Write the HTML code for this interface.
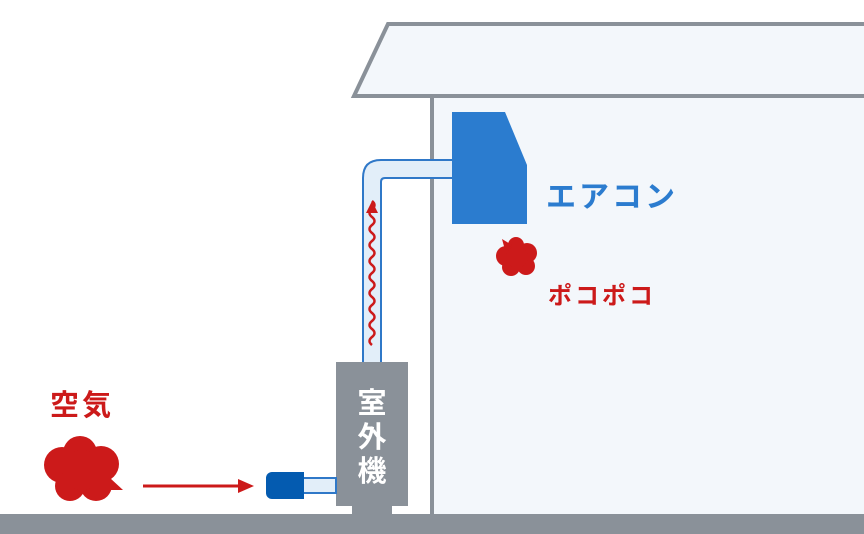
<!DOCTYPE html>
<html><head><meta charset="utf-8"><style>
html,body{margin:0;padding:0;background:#fff;}
svg{display:block}
text{font-family:"Liberation Sans","Noto Sans CJK JP",sans-serif;font-weight:bold}
</style></head><body>
<svg width="864" height="534" viewBox="0 0 864 534" xmlns="http://www.w3.org/2000/svg">
<rect x="432" y="96" width="440" height="420" fill="#f3f7fb"/>
<polygon points="388,24 866,24 866,96 354,96" fill="#f3f7fb" stroke="#8a9199" stroke-width="4"/>
<line x1="432" y1="96" x2="432" y2="516" stroke="#8a9199" stroke-width="4"/>
<path d="M363,364 V178 Q363,160 381,160 H454 V178 H385 Q381,178 381,182 V364 Z" fill="#e2eef9" stroke="#2f78c8" stroke-width="2"/>
<polygon points="452,112 505,112 527,165 527,224 452,224" fill="#2b7ccf"/>
<path d="M372,345 q-5,-4 0,-8 q5,-4 0,-8 q-5,-4 0,-8 q5,-4 0,-8 q-5,-4 0,-8 q5,-4 0,-8 q-5,-4 0,-8 q5,-4 0,-8 q-5,-4 0,-8 q5,-4 0,-8 q-5,-4 0,-8 q5,-4 0,-8 q-5,-4 0,-8 q5,-4 0,-8 q-5,-4 0,-8 q5,-4 0,-8 q-5,-4 0,-8 q5,-4 0,-8" fill="none" stroke="#cc1a1a" stroke-width="2.5"/>
<polygon points="372,201 366,213 378,213" fill="#cc1a1a"/>
<rect x="336" y="362" width="72" height="144" fill="#8a9199"/>
<rect x="352" y="500" width="40" height="16" fill="#8a9199"/>
<text x="372" y="413" font-size="29" fill="#fff" text-anchor="middle">室</text>
<text x="372" y="447" font-size="29" fill="#fff" text-anchor="middle">外</text>
<text x="372" y="481" font-size="29" fill="#fff" text-anchor="middle">機</text>
<rect x="0" y="514" width="864" height="20" fill="#8a9199"/>
<rect x="300" y="478" width="36" height="15" fill="#e2eef9" stroke="#2f78c8" stroke-width="2"/>
<rect x="266" y="472" width="38" height="27" rx="6" fill="#045bb0"/>
<rect x="290" y="472" width="14" height="27" fill="#045bb0"/>
<line x1="143" y1="486" x2="240" y2="486" stroke="#cc1a1a" stroke-width="3"/>
<polygon points="254,486 238,479 238,493" fill="#cc1a1a"/>
<g fill="#cc1a1a">
<circle cx="80" cy="453" r="17"/><circle cx="62" cy="465" r="18"/><circle cx="101" cy="464" r="18"/>
<circle cx="70" cy="486" r="15"/><circle cx="96" cy="485" r="16"/><circle cx="82" cy="470" r="20"/>
<polygon points="110,478 123,490 106,490"/>
<circle cx="516" cy="245" r="8"/><circle cx="506" cy="256" r="10"/><circle cx="527" cy="253" r="10"/>
<circle cx="511" cy="267" r="9"/><circle cx="526" cy="266" r="9"/><circle cx="517" cy="257" r="11"/>
<polygon points="502,239 505,250 512,245"/>
</g>
<text x="50" y="415" font-size="29" fill="#cc1a1a" letter-spacing="3">空気</text>
<text x="546" y="207" font-size="30" fill="#2b7ccf" letter-spacing="3">エアコン</text>
<text x="548" y="304" font-size="24" fill="#cc1a1a" letter-spacing="3">ポコポコ</text>
</svg>
</body></html>
